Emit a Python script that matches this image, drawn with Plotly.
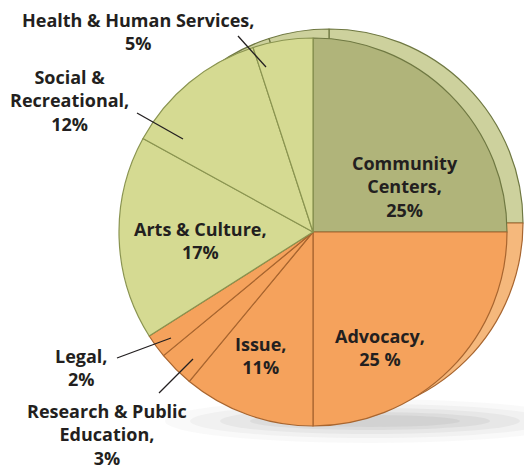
import plotly.graph_objects as go

W, H = 524, 469

categories = ["Community Centers", "Advocacy", "Issue", "Research & Public Education",
              "Legal", "Arts & Culture", "Social & Recreational", "Health & Human Services"]
values = [25, 25, 11, 3, 2, 17, 12, 5]
label_texts = ["Community<br>Centers,<br>25%", "Advocacy,<br>25 %", "Issue,<br>11%",
               "Research & Public<br>Education,<br>3%", "Legal,<br>2%",
               "Arts & Culture,<br>17%", "Social &<br>Recreational,<br>12%",
               "Health & Human Services,<br>5%"]

GREEN_D = "#b0b47a"
GREEN_L = "#d5da92"
ORANGE = "#f5a25c"
front_colors = [GREEN_D, ORANGE, ORANGE, ORANGE, ORANGE, GREEN_L, GREEN_L, GREEN_L]
front_lines = ["#6f7842", "#a8652f", "#a8652f", "#a8652f", "#a8652f", "#8a9450", "#8a9450", "#8a9450"]
back_colors = ["#cdd19d", "#f5b87c", "#f5b87c", "#f5b87c", "#f5b87c", "#cdd19d", "#cdd19d", "#cdd19d"]
back_lines = ["#6f7842", "#a8652f", "#a8652f", "#a8652f", "#a8652f", "#6f7842", "#6f7842", "#6f7842"]


def px_domain(cx, cy, r):
    return dict(x=[(cx - r) / W, (cx + r) / W], y=[(H - (cy + r)) / H, (H - (cy - r)) / H])


fig = go.Figure()
# back (3D rim) pie
fig.add_trace(go.Pie(values=values, labels=categories, sort=False, direction="clockwise",
                     rotation=0, textinfo="none", hoverinfo="skip", showlegend=False,
                     marker=dict(colors=back_colors, line=dict(color=back_lines, width=1.2)),
                     domain=px_domain(329, 223, 194)))
# front pie
fig.add_trace(go.Pie(values=values, labels=categories, sort=False, direction="clockwise",
                     rotation=0, textinfo="none", hoverinfo="skip", showlegend=False,
                     marker=dict(colors=front_colors, line=dict(color=front_lines, width=1.2)),
                     domain=px_domain(313, 232, 194)))

font = dict(family="Open Sans", size=18, color="#231f20", weight=700)

# label positions (pixel centers)
label_pos = [(405, 187), (380, 347), (260, 355), (107, 434), (81, 367),
             (200, 240), (69, 100), (138, 31)]

annotations = []
for t, (x, y) in zip(label_texts, label_pos):
    annotations.append(dict(text=t, x=x / W, y=1 - y / H, xref="paper", yref="paper",
                            showarrow=False, font=font, align="center",
                            xanchor="center", yanchor="middle"))

shapes = []
# soft shadow below the pie
for rx, ry, op in [(205, 22, 0.04), (180, 17, 0.05), (150, 13, 0.06), (120, 9, 0.07), (90, 6, 0.07)]:
    cx, cy = 370, 421
    shapes.append(dict(type="circle", xref="paper", yref="paper", layer="below",
                       x0=(cx - rx) / W, x1=(cx + rx) / W,
                       y0=1 - (cy + ry) / H, y1=1 - (cy - ry) / H,
                       fillcolor=f"rgba(90,90,90,{op})", line=dict(width=0)))

leaders = [((238, 36), (266, 67)), ((137, 113), (183, 139)),
           ((117, 358), (171, 338)), ((159, 393), (193, 359))]
for (x0, y0), (x1, y1) in leaders:
    shapes.append(dict(type="line", xref="paper", yref="paper",
                       x0=x0 / W, y0=1 - y0 / H, x1=x1 / W, y1=1 - y1 / H,
                       line=dict(color="#231f20", width=1.3)))

fig.update_layout(width=W, height=H, margin=dict(l=0, r=0, t=0, b=0),
                  paper_bgcolor="white", plot_bgcolor="white",
                  annotations=annotations, shapes=shapes, showlegend=False)

fig.write_html("out.html")
